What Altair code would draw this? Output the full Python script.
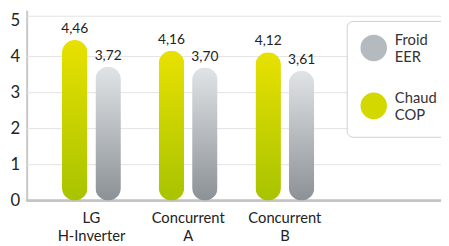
import altair as alt
import pandas as pd

FONT = "Lato"

categories = ["LG H-Inverter", "Concurrent A", "Concurrent B"]
chaud_cop = [4.46, 4.16, 4.12]
froid_eer = [3.72, 3.70, 3.61]
series_names = ["Froid EER", "Chaud COP"]
series_colors = ["#b5babe", "#d3d800"]
y_ticks = [0, 1, 2, 3, 4, 5]
grid_lines = [1, 2, 3, 4, 5.12]

rows = []
for c, v in zip(categories, chaud_cop):
    rows.append({"category": c, "series": "Chaud COP", "value": v})
for c, v in zip(categories, froid_eer):
    rows.append({"category": c, "series": "Froid EER", "value": v})
df = pd.DataFrame(rows)
grid_df = pd.DataFrame({"g": grid_lines})

yellow_grad = alt.Gradient(
    gradient="linear", x1=0, x2=0, y1=0, y2=1,
    stops=[alt.GradientStop(color="#e8e100", offset=0),
           alt.GradientStop(color="#a8c300", offset=1)],
)
gray_grad = alt.Gradient(
    gradient="linear", x1=0, x2=0, y1=0, y2=1,
    stops=[alt.GradientStop(color="#e0e4e7", offset=0),
           alt.GradientStop(color="#8c9196", offset=1)],
)

y_scale = alt.Scale(domain=[0, 5.29], nice=False, zero=True)
y_axis = alt.Axis(values=y_ticks, title=None, grid=False, ticks=False,
                  domainColor="#c8c8c8", domainWidth=2, labelFontSize=17,
                  labelColor="#222222", labelPadding=7, labelFont=FONT, format="d",
                  labelOverlap=False)

x_enc = alt.X("category:N", sort=categories,
              scale=alt.Scale(range=[16.75, 312.25], paddingInner=0, paddingOuter=0),
              axis=alt.Axis(title=None, domain=False, ticks=False, labelAngle=0,
                            labelExpr="split(datum.label, ' ')", labelFontSize=15,
                            labelColor="#222222", labelPadding=10, labelLineHeight=19,
                            labelFont=FONT))
y_enc = alt.Y("value:Q", scale=y_scale, axis=y_axis)

base = alt.Chart(df)

grid = alt.Chart(grid_df).mark_rule(color="#e2e2e2", strokeWidth=1).encode(
    y=alt.Y("g:Q", scale=y_scale, axis=y_axis)
)
baseline = alt.Chart(grid_df).mark_rule(color="#c4c4c4", strokeWidth=2).encode(
    y=alt.Y(datum=0, scale=y_scale, axis=y_axis)
)

legend_layer = base.mark_point(filled=True, opacity=0).encode(
    x=x_enc, y=y_enc,
    color=alt.Color("series:N", scale=alt.Scale(domain=series_names, range=series_colors),
                    legend=alt.Legend(title=None, orient="none", legendX=326, legendY=11,
                                      labelExpr="split(datum.label, ' ')",
                                      labelAlign="left", labelBaseline="bottom",
                                      symbolType="circle", symbolSize=729,
                                      symbolStrokeWidth=0, symbolOpacity=1,
                                      labelFontSize=15, labelColor="#333333",
                                      labelFont=FONT, labelOffset=8, rowPadding=26,
                                      padding=14, strokeColor="#cfcfcf",
                                      fillColor="white", cornerRadius=6)),
)

def series_layers(name, grad, offset):
    sub = base.transform_filter(alt.datum.series == name)
    bars = sub.mark_bar(width=26, cornerRadius=13, xOffset=offset, fill=grad).encode(
        x=x_enc, y=y_enc)
    txt = sub.transform_calculate(
        label="replace(format(datum.value, '.2f'), '.', ',')"
    ).mark_text(xOffset=offset, dy=-7, baseline="alphabetic", fontSize=14,
                color="#222222", font=FONT).encode(x=x_enc, y=y_enc, text="label:N")
    return [bars, txt]

layers = [grid, baseline, legend_layer]
layers += series_layers("Chaud COP", yellow_grad, -17)
layers += series_layers("Froid EER", gray_grad, 17)

chart = alt.layer(*layers).properties(
    width=422, height=194,
    autosize=alt.AutoSizeParams(type="none"),
    padding={"left": 19, "top": 0, "right": 0, "bottom": 42},
).configure_view(stroke=None)

chart.save("out.html", embed_options={"renderer": "svg", "actions": False})
